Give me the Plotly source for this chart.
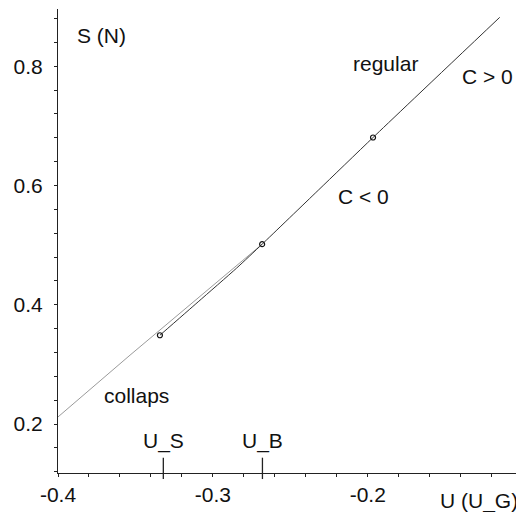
import plotly.graph_objects as go

# --- data ---
gray_u = [-0.4, -0.3535, -0.2682]
gray_s = [0.212, 0.3156, 0.5017]

black_u = [-0.3342, -0.3095, -0.2847, -0.2682, -0.232, -0.1966, -0.1148]
black_s = [0.349, 0.405, 0.4615, 0.5017, 0.592, 0.6805, 0.882]

point_u = [-0.3342, -0.2682, -0.1966]
point_s = [0.349, 0.5017, 0.6805]

mark_u = [-0.332, -0.268]
mark_labels = ["U_S", "U_B"]

x_tickvals = [-0.4, -0.3, -0.2]
x_ticktext = ["-0.4", "-0.3", "-0.2"]
y_tickvals = [0.2, 0.4, 0.6, 0.8]
y_ticktext = ["0.2", "0.4", "0.6", "0.8"]

FONT = "Liberation Sans, Arial, sans-serif"
FS = 21

fig = go.Figure()
fig.add_trace(go.Scatter(x=gray_u, y=gray_s, mode="lines",
                         line=dict(color="#9a9a9a", width=1), hoverinfo="skip"))
fig.add_trace(go.Scatter(x=black_u, y=black_s, mode="lines", line_shape="spline",
                         line=dict(color="#333333", width=1, smoothing=0.6),
                         hoverinfo="skip"))
fig.add_trace(go.Scatter(x=point_u, y=point_s, mode="markers",
                         marker=dict(symbol="circle-open", size=5,
                                     color="#111111", line=dict(width=1.2)),
                         hoverinfo="skip"))

# long marks for U_S and U_B
for u, lab in zip(mark_u, mark_labels):
    fig.add_shape(type="line", xref="x", yref="paper", x0=u, x1=u,
                  y0=-0.013, y1=0.033, line=dict(color="#222222", width=1.3))
    fig.add_annotation(x=u, y=0.171, xref="x", yref="y", text=lab,
                       showarrow=False, yanchor="middle",
                       font=dict(size=FS, color="#111111", family=FONT))

labels = [
    ("S (N)", -0.3716, 0.851),
    ("regular", -0.1884, 0.805),
    ("C > 0", -0.1226, 0.783),
    ("C < 0", -0.2029, 0.582),
    ("collaps", -0.3494, 0.2476),
]
for t, x, y in labels:
    fig.add_annotation(x=x, y=y, xref="x", yref="y", text=t, showarrow=False,
                       xanchor="center", yanchor="middle",
                       font=dict(size=FS, color="#111111", family=FONT))

fig.add_annotation(x=-0.1284, y=-0.0614, xref="x", yref="paper", text="U (U_G)",
                   showarrow=False, xanchor="center", yanchor="middle",
                   font=dict(size=FS, color="#111111", family=FONT))

# the page body adds an 8px offset, so the figure is 8px smaller on each axis
fig.update_layout(
    width=516, height=504,
    margin=dict(l=50, r=4, t=1, b=39, autoexpand=False),
    paper_bgcolor="white", plot_bgcolor="white",
    showlegend=False,
    font=dict(family=FONT, size=FS, color="#111111"),
    xaxis=dict(range=[-0.4, -0.1017], showgrid=False, zeroline=False,
               automargin=False,
               showline=True, linecolor="#222222", linewidth=1,
               tickvals=x_tickvals, ticktext=x_ticktext,
               ticks="outside", ticklen=3, tickcolor="#222222",
               minor=dict(dtick=0.02, tick0=-0.4, ticks="outside", ticklen=3,
                          tickcolor="#222222", showgrid=False),
               tickfont=dict(size=FS, family=FONT, color="#111111")),
    yaxis=dict(range=[0.118, 0.896], showgrid=False, zeroline=False,
               automargin=False,
               showline=True, linecolor="#222222", linewidth=1,
               tickvals=y_tickvals, ticktext=y_ticktext,
               ticks="outside", ticklen=3, tickcolor="#222222",
               ticklabelstandoff=7,
               minor=dict(dtick=0.04, tick0=0.2, ticks="outside", ticklen=3,
                          tickcolor="#222222", showgrid=False),
               tickfont=dict(size=FS, family=FONT, color="#111111")),
)

fig.write_html("out.html")
